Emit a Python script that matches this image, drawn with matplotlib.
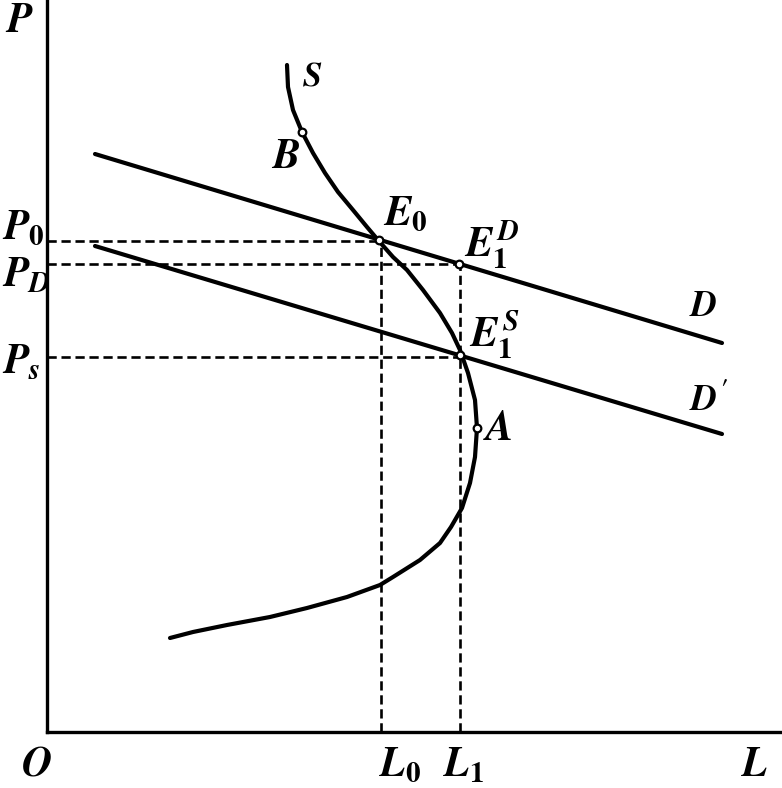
import matplotlib
matplotlib.use("Agg")
import matplotlib.pyplot as plt

# Backward-bending labour supply with two demand lines
# (units are arbitrary; origin O at bottom left)

plt.rcParams['mathtext.fontset'] = 'custom'
plt.rcParams['mathtext.rm'] = 'STIXGeneral:bold'
plt.rcParams['mathtext.it'] = 'STIXGeneral:italic:bold'
plt.rcParams['mathtext.bf'] = 'STIXGeneral:bold'

# supply curve S, read from top to bottom
s_L = [240, 241, 246, 255, 266, 278, 291, 306, 320, 331, 346, 360, 376, 393, 405,
       413, 421, 428, 430, 428, 423, 415, 404, 393, 373, 346, 333, 300, 260, 223,
       180, 146, 123]
s_P = [667, 645, 622, 600, 579, 559, 540, 522, 505, 492, 475, 462, 442, 419, 399,
       382, 359, 332, 304, 275, 249, 224, 205, 189, 172, 155, 147, 135, 124, 115,
       107, 100, 94]

# demand lines D and D'
d_L = [48, 675]
d_P = [578, 389]
d2_L = [48, 675]
d2_P = [486, 298]

# marked points
pts = {'B': (255, 600), 'E0': (332, 492), 'E1D': (412, 468),
       'E1S': (413, 377), 'A': (430, 304)}

# price and quantity levels
P0, PD, PS = 491, 468, 375
L0, L1 = 334, 413

fig = plt.figure(figsize=(7.82, 7.88), dpi=100)
ax = fig.add_axes([47 / 782, 56 / 788, 735 / 782, 732 / 788])
ax.set_xlim(0, 735)
ax.set_ylim(0, 732)
for side in ['top', 'right']:
    ax.spines[side].set_visible(False)
for side in ['left', 'bottom']:
    ax.spines[side].set_linewidth(2.4)
ax.set_xticks([])
ax.set_yticks([])

dash = dict(color='black', lw=1.9, dashes=(3.5, 1.8))
ax.plot([0, pts['E0'][0]], [P0, P0], **dash)
ax.plot([0, pts['E1D'][0]], [PD, PD], **dash)
ax.plot([0, pts['E1S'][0]], [PS, PS], **dash)
ax.plot([L0, L0], [0, P0], **dash)
ax.plot([L1, L1], [0, PD], **dash)

ax.plot(d_L, d_P, color='black', lw=3, solid_capstyle='round')
ax.plot(d2_L, d2_P, color='black', lw=3, solid_capstyle='round')
ax.plot(s_L, s_P, color='black', lw=3, solid_capstyle='round',
        solid_joinstyle='round')

for k, (x, y) in pts.items():
    ax.plot(x, y, 'o', ms=5.5, mfc='white', mec='black', mew=1.6, zorder=5)

fs = 30
tk = dict(fontsize=fs, clip_on=False, color='black')
ax.text(-42, 712, '$P$', va='center', ha='left', **tk)
ax.text(-45, 505, '$P_0$', va='center', ha='left', **tk)
ax.text(-45, 458, '$P_D$', va='center', ha='left', **tk)
ax.text(-45, 371, '$P_s$', va='center', ha='left', **tk)
ax.text(-26, -32, '$O$', va='center', ha='left', **tk)
ax.text(L0 - 2, -32, '$L_0$', va='center', ha='left', **tk)
ax.text(L1 - 17, -32, '$L_1$', va='center', ha='left', **tk)
ax.text(694, -32, '$L$', va='center', ha='left', **tk)

ax.text(255, 657, '$S$', va='center', ha='left', fontsize=25)
ax.text(224, 576, '$B$', va='center', ha='left', fontsize=fs)
ax.text(336, 519, '$E_0$', va='center', ha='left', fontsize=fs)
ax.text(417, 487, '$E_1^D$', va='center', ha='left', fontsize=fs)
ax.text(422, 398, '$E_1^S$', va='center', ha='left', fontsize=fs)
ax.text(436, 304, '$A$', va='center', ha='left', fontsize=fs)
ax.text(642, 426, '$D$', va='center', ha='left', fontsize=fs - 4)
ax.text(642, 332, "$D'$", va='center', ha='left', fontsize=fs - 4)

fig.savefig('out.png', dpi=100)
